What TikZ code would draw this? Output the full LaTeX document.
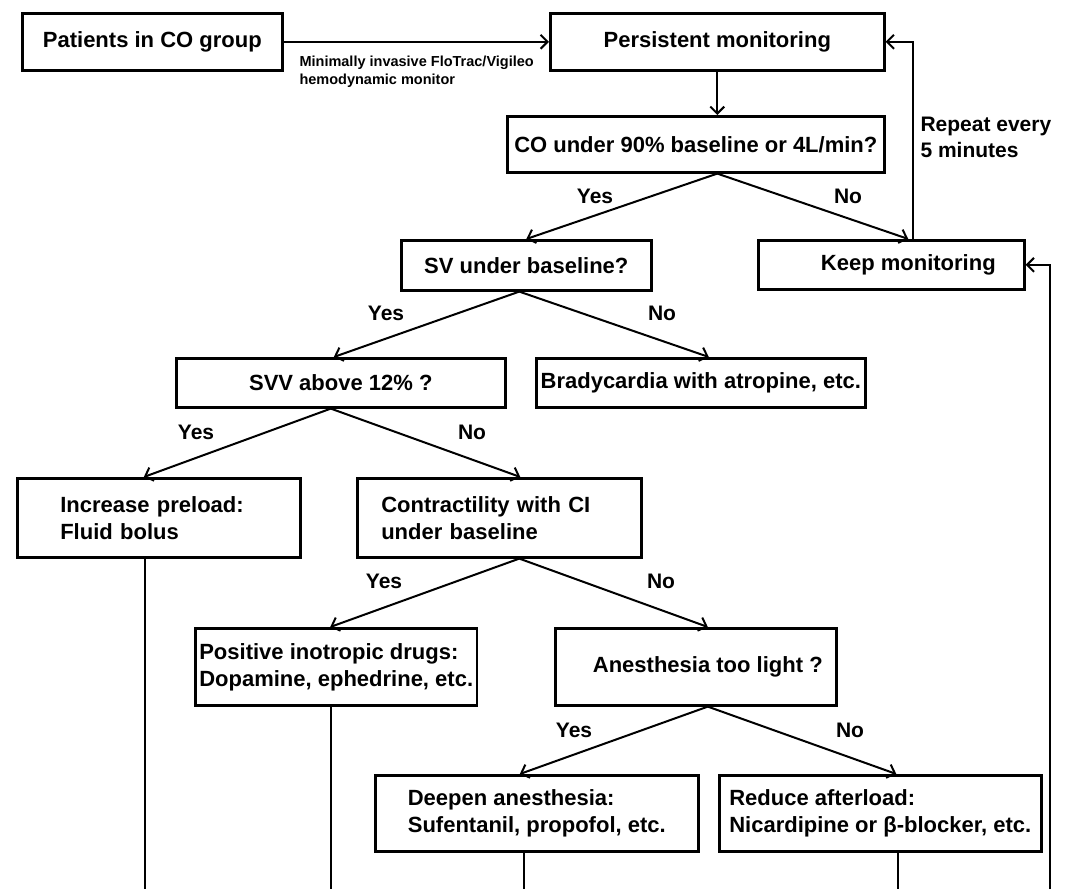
\documentclass[tikz,border=0pt]{standalone}
\usepackage{fontspec}
\setmainfont{Liberation Sans}
\usetikzlibrary{arrows.meta}

\tikzset{
    box/.style={draw, line width=2.6pt, anchor=north west, inner sep=4pt,
        font=\bfseries\fontsize{22}{27}\selectfont},
    arr/.style={line width=2pt, -{Straight Barb[length=7pt,width=14pt,line width=2pt]}},
    lbl/.style={font=\bfseries\fontsize{21}{26}\selectfont},
    tail/.style={line width=1.7pt},
}

\begin{document}
\begin{tikzpicture}[x=1pt,y=-1pt]
    \useasboundingbox (0,0) rectangle (1067,889);

    % Top row
    \node[box, minimum width=260, minimum height=57] (pat) at (21,12) {Patients in CO group};
    \node[box, minimum width=334, minimum height=57] (pers) at (549,12) {Persistent monitoring};
    \draw[arr] (pat) -- (pers);
    \node[anchor=west, align=left, font=\bfseries\fontsize{14.5}{18}\selectfont] (dev) at (296,72)
        {Minimally invasive FloTrac/Vigileo\\hemodynamic monitor};

    % CO check
    \node[box, minimum width=377, minimum height=56] (co) at (506,115) {CO under 90\% baseline or 4L/min?};
    \draw[arr] (pers.south) -- (pers.south |- co.north);
    \coordinate (cob) at (pers.south |- co.south);

    % SV check / keep monitoring
    \node[box, minimum width=250, minimum height=50] (sv) at (400,239) {SV under baseline?};
    \node[box, minimum width=266, minimum height=49] (keep) at (757,239) {\hspace*{34pt}Keep monitoring};
    \draw[arr] (cob) -- (sv.north);
    \draw[arr] (cob) -- ([xshift=17pt]keep.north);
    \draw[arr] ([xshift=22pt]keep.north) |- (pers.east);
    \node[lbl, anchor=west, align=left] (rep) at (917,137) {Repeat every\\5 minutes};

    % SVV check / bradycardia
    \node[box, minimum width=329, minimum height=49] (svv) at (175,357) {SVV above 12\% ?};
    \node[box, minimum width=329, minimum height=49] (brady) at (535,357) {Bradycardia with atropine, etc.};
    \draw[arr] ([xshift=-7pt]sv.south) -- ([xshift=-7pt]svv.north);
    \draw[arr] ([xshift=-7pt]sv.south) -- ([xshift=8pt]brady.north);

    % Preload / contractility
    \node[box, minimum height=79, text width=197, inner xsep=43, align=left] (inc) at (16,477)
        {Increase preload:\\Fluid bolus};
    \node[box, minimum height=79, text width=236, inner xsep=24, align=left] (con) at (356,477)
        {Contractility with CI\\under baseline};
    \draw[arr] ([xshift=-10pt]svv.south) -- ([xshift=-15pt]inc.north);
    \draw[arr] ([xshift=-10pt]svv.south) -- ([xshift=21pt]con.north);

    % Inotropes / anesthesia depth
    \node[box, minimum width=281, minimum height=77, align=left] (pos) at (194,627)
        {Positive inotropic drugs:\\Dopamine, ephedrine, etc.};
    \node[box, minimum width=281, minimum height=77] (ane) at (554,627) {\hspace*{24pt}Anesthesia too light ?};
    \draw[arr] ([xshift=20pt]con.south) -- ([xshift=-6pt]pos.north);
    \draw[arr] ([xshift=20pt]con.south) -- ([xshift=12pt]ane.north);

    % Deepen / afterload
    \node[box, minimum width=323, minimum height=76, align=left] (dee) at (374,774)
        {Deepen anesthesia:\\Sufentanil, propofol, etc.};
    \node[box, minimum width=322, minimum height=76, align=left] (red) at (718,774)
        {Reduce afterload:\\Nicardipine or β-blocker, etc.};
    \draw[arr] ([xshift=12pt]ane.south) -- ([xshift=-17pt]dee.north);
    \draw[arr] ([xshift=12pt]ane.south) -- ([xshift=16pt]red.north);

    % Yes / No labels
    \foreach \t/\x/\y [count=\i] in {Yes/595/196, No/848/196, Yes/386/313, No/662/313,
            Yes/196/432, No/472/432, Yes/384/581, No/661/581, Yes/574/730, No/850/730} {
        \node[lbl] (lab\i) at (\x,\y) {\t};
    }

    % Lines back to keep monitoring
    \coordinate (back) at (1050,889);
    \foreach \n/\s in {inc/-14, pos/-5, dee/-13, red/18} {
        \draw[tail] (\n.south) ++(\s,0) coordinate (t) -- (t |- back);
    }
    \draw[arr] (back) |- (keep.east);

\end{tikzpicture}
\end{document}
